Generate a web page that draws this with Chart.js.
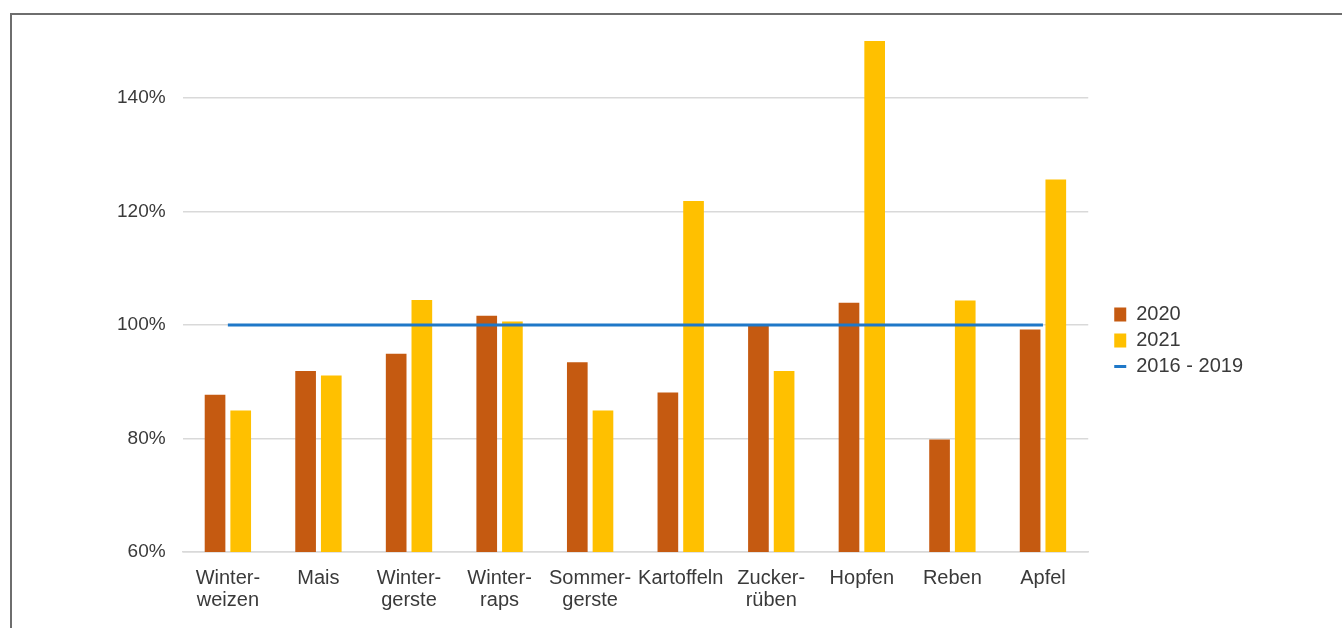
<!DOCTYPE html>
<html lang="de">
<head>
<meta charset="utf-8">
<title>Erträge 2020 und 2021</title>
<script src="https://cdn.jsdelivr.net/npm/chart.js@4/dist/chart.umd.min.js"></script>
<style>
  html, body { margin: 0; padding: 0; background: #fff; }
  #frame {
    position: absolute; left: 10px; top: 13px; right: 0; bottom: 0;
    border-top: 2px solid #6e6e6e; border-left: 2px solid #6e6e6e;
  }
  #wrap { position: absolute; left: 0; top: 0; width: 1342px; height: 628px; }
</style>
</head>
<body>
<div id="frame"></div>
<div id="wrap"><canvas id="ertragChart" width="1342" height="628"></canvas></div>
<script>
// Kulturen (mehrzeilige Beschriftung)
const kulturen = [
  ["Winter-", "weizen"], "Mais", ["Winter-", "gerste"], ["Winter-", "raps"],
  ["Sommer-", "gerste"], "Kartoffeln", ["Zucker-", "rüben"], "Hopfen", "Reben", "Apfel"
];

// Ertrag in % des Mittels 2016 - 2019
const ertrag2020 = [87.7, 91.9, 94.9, 101.6, 93.4, 88.1, 100.0, 103.9, 79.8, 99.2];
const ertrag2021 = [84.9, 91.1, 104.4, 100.6, 84.9, 121.8, 91.9, 150.0, 104.3, 125.6];
const mittel1619 = [100, 100, 100, 100, 100, 100, 100, 100, 100, 100];

const yTicks = [60, 80, 100, 120, 140];

const textColor = '#3a3a3a';
const gridColor = '#d9d9d9';
const fontFamily = 'Liberation Sans, Arial, sans-serif';

new Chart(document.getElementById('ertragChart'), {
  data: {
    labels: kulturen,
    datasets: [
      {
        type: 'bar',
        label: '2020',
        data: ertrag2020,
        backgroundColor: '#C55A11',
        pointStyle: 'rect',
        order: 1
      },
      {
        type: 'bar',
        label: '2021',
        data: ertrag2021,
        backgroundColor: '#FFC000',
        pointStyle: 'rect',
        order: 1
      },
      {
        type: 'line',
        label: '2016 - 2019',
        data: mittel1619,
        borderColor: '#1F78C8',
        backgroundColor: '#1F78C8',
        borderWidth: 3,
        pointRadius: 0,
        pointStyle: 'line',
        order: 0
      }
    ]
  },
  options: {
    responsive: false,
    animation: false,
    layout: { padding: { left: 100, top: 41, right: 89, bottom: 0 } },
    datasets: {
      bar: { categoryPercentage: 0.567, barPercentage: 0.805 }
    },
    scales: {
      x: {
        grid: { display: false },
        border: { display: true, color: gridColor, width: 1.5 },
        ticks: {
          color: textColor,
          font: { family: fontFamily, size: 20, lineHeight: 1.1 },
          padding: 7,
          maxRotation: 0,
          autoSkip: false
        },
        afterFit: (scale) => { scale.height = 76; }
      },
      y: {
        min: 60,
        max: 150,
        afterBuildTicks: (scale) => { scale.ticks = yTicks.map(v => ({ value: v })); },
        grid: { color: gridColor, lineWidth: 1.5, drawTicks: false },
        border: { display: false },
        ticks: {
          color: textColor,
          font: { family: fontFamily, size: 19 },
          padding: 17,
          callback: (v) => v + '%'
        }
      },
      rechts: {
        position: 'right',
        display: true,
        grid: { display: false },
        border: { display: false },
        ticks: { display: false },
        afterFit: (scale) => { scale.width = 20; }
      }
    },
    plugins: {
      tooltip: { enabled: false },
      legend: {
        position: 'right',
        align: 'center',
        title: { display: true, text: '', font: { size: 1, lineHeight: 1 }, padding: { top: 6, bottom: 5 } },
        labels: {
          color: textColor,
          font: { family: fontFamily, size: 20 },
          usePointStyle: true,
          pointStyleWidth: 12,
          boxHeight: 14,
          padding: 6,
          sort: (a, b) => a.datasetIndex - b.datasetIndex
        }
      }
    }
  }
});
</script>
</body>
</html>
